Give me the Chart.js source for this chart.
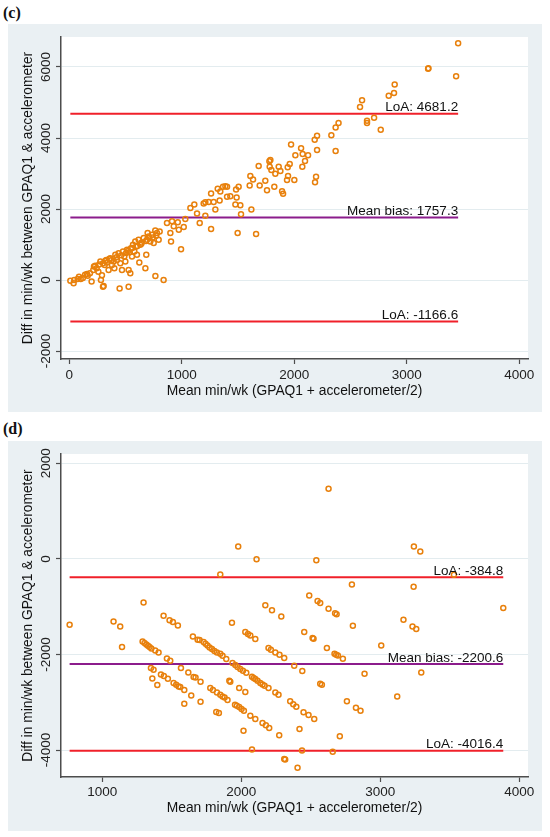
<!DOCTYPE html>
<html><head><meta charset="utf-8">
<script src="https://cdn.jsdelivr.net/npm/chart.js@4.4.1/dist/chart.umd.min.js"></script>
<style>
html,body{margin:0;padding:0;background:#fff;}
body{width:550px;height:837px;position:relative;overflow:hidden;font-family:"Liberation Sans",Arial,sans-serif;}
.panel{position:absolute;left:8px;background:#eaf0f3;}
.panel canvas{display:block;}
.lbl{position:absolute;left:3px;font-family:"Liberation Serif","Times New Roman",serif;font-weight:bold;font-size:16px;line-height:16px;color:#111;}
</style></head><body>
<div class="lbl" style="top:5px">(c)</div>
<div class="panel" style="top:24px;width:534px;height:388px"><canvas id="cC" width="534" height="388"></canvas></div>
<div class="lbl" style="top:421px">(d)</div>
<div class="panel" style="top:441px;width:534px;height:390px"><canvas id="cD" width="534" height="390"></canvas></div>
<script>
// ---------- Panel (c) data: [mean, difference] ----------
const cPoints = [
[9,-20],[44,0],[38,-90],[74,30],[86,95],[101,28],[157,170],[163,120],[183,189],[198,-42],[213,283],[219,378],[243,330],[258,236],[276,519],[281,0],[299,-189],[305,-170],[290,132],[314,425],[329,566],[334,491],[349,283],[364,613],[379,425],[394,519],[400,330],[409,708],[424,566],[438,755],[447,-236],[453,472],[468,283],[477,802],[489,661],[498,519],[513,850],[527,283],[527,-189],[536,784],[542,189],[548,897],[557,661],[566,991],[578,802],[586,1086],[595,944],[601,708],[616,1133],[622,491],[631,991],[643,1058],[661,1180],[676,330],[684,708],[690,1133],[696,1322],[705,1227],[720,1086],[735,1275],[750,1039],[764,1397],[765,113],[779,1322],[794,1133],[803,1369],[838,0],[868,1605],[898,1322],[904,1086],[913,1653],[928,1511],[964,1625],[973,1416],[993,869],[1017,1492],[1031,1719],[1076,2031],[1111,2125],[1135,1870],[1159,1606],[1194,2153],[1209,2190],[1209,1813],[1239,2200],[1260,2436],[1260,1436],[1283,2200],[1298,1983],[1319,2569],[1336,2238],[1342,2493],[1366,2626],[1387,2643],[1402,2626],[1402,2342],[1431,2360],[1476,2125],[1482,2550],[1487,2323],[1496,1323],[1505,2626],[1520,2106],[1526,1850],[1603,2663],[1609,2927],[1633,2833],[1618,1983],[1660,1295],[1683,3211],[1692,2663],[1742,2795],[1757,2530],[1778,3343],[1787,3381],[1781,3192],[1796,3097],[1822,2625],[1831,2993],[1861,3192],[1876,3069],[1891,2502],[1900,2427],[1941,3173],[1944,2927],[1959,3267],[1935,2814],[1971,3815],[2000,2814],[2009,3513],[2060,3712],[2074,3551],[2071,3192],[2095,3353],[2122,3513],[2181,3948],[2202,4062],[2202,3664],[2193,2908],[2184,2757],[2329,4080],[2367,4297],[2367,3636],[2393,4420],[2584,4873],[2602,5061],[2646,4486],[2646,4420],[2709,4571],[2768,4231],[2839,5193],[2886,5269],[2892,5505],[3189,5948],[3192,5967],[3438,5742],[3456,6666],
[230,400],[265,440],[300,470],[320,540],[355,590],[372,560],[420,640],[462,700],[505,760],[522,820],[560,900],[605,960],[640,1020],[682,1100],[712,1180],[742,1200],[772,1250],[120,60],[140,150]
];
const cMeanBias = 1757.3, cLoAUpper = 4681.2, cLoALower = -1166.6;
const cXTicks = [0, 1000, 2000, 3000, 4000];
const cYTicks = [-2000, 0, 2000, 4000, 6000];
const cXRange = [-74, 4077];
const cYRange = [-2225, 6845];

// ---------- Panel (d) data: [mean, difference] ----------
const dPoints = [
[765,-1379],[1081,-1310],[1129,-1415],[1142,-1846],[1297,-913],[1441,-1191],[1484,-1282],[1508,-1323],[1544,-1394],[1849,-328],[1978,257],[2110,-6],[2173,-968],[2221,-1073],[2628,1469],[3242,257],[3288,153],[2540,-27],[3530,-334],[2796,-537],[3240,-585],[2489,-767],[2549,-884],[2568,-926],[2628,-1045],[2675,-1140],[2686,-1158],[2288,-1205],[3167,-1275],[3885,-1030],
[2803,-1400],[3232,-1415],[3259,-1470],[2453,-1532],[2513,-1657],[2520,-1672],[3007,-1812],[2616,-1866],[2671,-1986],[2683,-2006],[2695,-2021],[2731,-2090],[2381,-2236],[2439,-2347],[2887,-2404],[3295,-2376],[2568,-2613],[2580,-2633],[3122,-2878],[2352,-2982],[2374,-3040],[2396,-3093],[2760,-2982],[2825,-3114],[2858,-3177],[2448,-3212],[2484,-3267],[2525,-3350],[2419,-3559],[2709,-3714],[2437,-4013],[2658,-4034],[2273,-3693],[2309,-4186],[2316,-4201],[2405,-4374],
[1290,-1728],[1304,-1762],[1317,-1791],[1329,-1818],[1340,-1846],[1353,-1875],[1381,-1916],[1405,-1958],[1465,-2084],[1489,-2132],[1350,-2284],[1369,-2320],[1360,-2502],[1396,-2640],[1422,-2418],[1443,-2452],[1472,-2508],[1513,-2598],[1532,-2633],[1549,-2669],[1561,-2682],[1590,-2744],[1590,-3031],[1566,-2284],[1619,-2376],[1657,-2472],[1671,-2481],[1707,-2571],[1640,-2857],[1707,-2989],[1652,-1624],[1686,-1693],[1700,-1699],[1729,-1741],[1743,-1777],[1757,-1812],[1772,-1854],[1789,-1887],[1807,-1929],[1825,-1958],[1849,-1986],[1865,-2027],[1892,-2097],[1777,-2703],[1796,-2744],[1825,-2794],[1849,-2842],[1865,-2878],[1880,-2899],[1901,-2953],[1820,-3204],[1839,-3225],[1933,-1338],[1914,-2550],[1921,-2571],[1937,-2180],[1957,-2222],[1973,-2264],[1993,-2305],[2012,-2341],[2036,-2383],[1955,-3051],[1968,-3072],[1985,-3100],[2002,-3141],[2019,-3177],[1985,-2703],[2029,-2786],[2065,-3281],[2101,-3350],[2016,-3595],[2077,-3992],[2029,-1532],[2048,-1574],[2065,-1602],[2101,-1679],[2077,-2466],[2089,-2494],[2101,-2515],[2117,-2550],[2137,-2598],[2153,-2627],[2168,-2654],[2196,-2703],[2153,-3434],[2177,-3483],[2201,-3539],[2245,-2794],[2268,-2842],[2196,-1866],[2213,-1902],[2245,-1958],[2275,-2006],[2309,-2076]
];
const dMeanBias = -2200.6, dLoAUpper = -384.8, dLoALower = -4016.4;
const dXTicks = [1000, 2000, 3000, 4000];
const dYTicks = [-4000, -2000, 0, 2000];
const dXRange = [703, 4063];
const dYRange = [-4565, 2195];

const XTITLE = 'Mean min/wk (GPAQ1 + accelerometer/2)';
const YTITLE = 'Diff in min/wk between GPAQ1 & accelerometer';
const FAM = '"Liberation Sans", Arial, sans-serif';
const AXIS = '#4d4d4d';
const ORANGE = '#e8800c';
const RED = '#f0202a';
const PURPLE = '#8c1c8c';
const FS = 13.5, FT = 13.8;

function makeChart(id, pts, bias, loaU, loaL, xTicks, yTicks, xr, yr, xH, xTitlePad, xTickPad) {
  const xs = pts.map(p => p[0]);
  const x0 = Math.min(...xs), x1 = Math.max(...xs);
  const hline = v => [{x: x0, y: v}, {x: x1, y: v}];
  const lineDs = (v, c) => ({type: 'line', data: hline(v), borderColor: c, borderWidth: 2,
    pointRadius: 0, fill: false, tension: 0});
  const labels = [
    {v: loaU, t: 'LoA: ' + loaU.toFixed(1)},
    {v: bias, t: 'Mean bias: ' + bias.toFixed(1)},
    {v: loaL, t: 'LoA: ' + loaL.toFixed(1)}
  ];
  const deco = {
    id: 'deco',
    beforeDraw(chart) {
      const a = chart.chartArea, ctx = chart.ctx;
      ctx.save(); ctx.fillStyle = '#ffffff';
      ctx.fillRect(a.left, a.top, a.right - a.left, a.bottom - a.top);
      ctx.restore();
    },
    afterDatasetsDraw(chart) {
      const ctx = chart.ctx, xs_ = chart.scales.x, ys_ = chart.scales.y;
      ctx.save();
      ctx.font = FS + 'px ' + FAM; ctx.fillStyle = '#111';
      ctx.textAlign = 'right'; ctx.textBaseline = 'alphabetic';
      const xe = xs_.getPixelForValue(x1);
      labels.forEach(l => ctx.fillText(l.t, xe, ys_.getPixelForValue(l.v) - 2.5));
      ctx.restore();
    },
    afterDraw(chart) {
      const ctx = chart.ctx, ys_ = chart.scales.y;
      ctx.save();
      ctx.font = FS + 'px ' + FAM; ctx.fillStyle = '#222';
      ctx.textAlign = 'center'; ctx.textBaseline = 'middle';
      ys_.ticks.forEach(t => {
        ctx.save();
        ctx.translate(38, ys_.getPixelForValue(t.value));
        ctx.rotate(-Math.PI / 2);
        ctx.fillText(String(t.value), 0, 0);
        ctx.restore();
      });
      ctx.restore();
    }
  };
  return new Chart(document.getElementById(id), {
    type: 'scatter',
    data: {datasets: [
      {type: 'scatter', data: pts.map(p => ({x: p[0], y: p[1]})), pointStyle: 'circle',
       pointRadius: 2.5, pointBorderWidth: 1.5, borderColor: ORANGE, backgroundColor: 'rgba(0,0,0,0)',
       pointBackgroundColor: 'rgba(0,0,0,0)', pointBorderColor: ORANGE},
      lineDs(loaU, RED), lineDs(bias, PURPLE), lineDs(loaL, RED)
    ]},
    options: {
      responsive: false, animation: false, events: [],
      layout: {padding: {top: 13, right: 14, left: 0, bottom: 0}},
      plugins: {legend: {display: false}, tooltip: {enabled: false}},
      scales: {
        x: {type: 'linear', position: 'bottom', min: xr[0], max: xr[1],
          afterBuildTicks: s => { s.ticks = xTicks.map(v => ({value: v})); },
          afterFit: s => { s.height = xH; s.paddingLeft = 0; s.paddingRight = 0; s.paddingTop = 0; s.paddingBottom = 0; },
          grid: {drawOnChartArea: false, drawTicks: true, tickLength: 5, tickColor: AXIS, tickWidth: 1.2},
          border: {display: true, color: AXIS, width: 1.5},
          ticks: {color: '#222', font: {size: FS, family: FAM}, padding: xTickPad, maxRotation: 0, minRotation: 0,
                  autoSkip: false, callback: v => String(v)},
          title: {display: true, text: XTITLE, color: '#111', font: {size: FT, family: FAM},
                  padding: {top: 0, bottom: xTitlePad}}
        },
        y: {type: 'linear', position: 'left', min: yr[0], max: yr[1],
          afterBuildTicks: s => { s.ticks = yTicks.map(v => ({value: v})); },
          afterFit: s => { s.width = 53; s.paddingLeft = 0; s.paddingRight = 0; s.paddingTop = 0; s.paddingBottom = 0; },
          grid: {drawOnChartArea: true, color: '#e3ecef', lineWidth: 1, drawTicks: true, tickLength: 5,
                 tickColor: AXIS, tickWidth: 1.2},
          border: {display: true, color: AXIS, width: 1.5},
          ticks: {color: 'rgba(0,0,0,0)', font: {size: FS, family: FAM}, padding: 2, callback: v => String(v)},
          title: {display: true, text: YTITLE, color: '#111', font: {size: FT, family: FAM},
                  padding: {top: 11.5, bottom: 0}}
        }
      }
    },
    plugins: [deco]
  });
}

makeChart('cC', cPoints, cMeanBias, cLoAUpper, cLoALower, cXTicks, cYTicks, cXRange, cYRange, 53, 12.5, 3);
makeChart('cD', dPoints, dMeanBias, dLoAUpper, dLoALower, dXTicks, dYTicks, dXRange, dYRange, 54, 14.5, 2);
</script>
</body></html>
